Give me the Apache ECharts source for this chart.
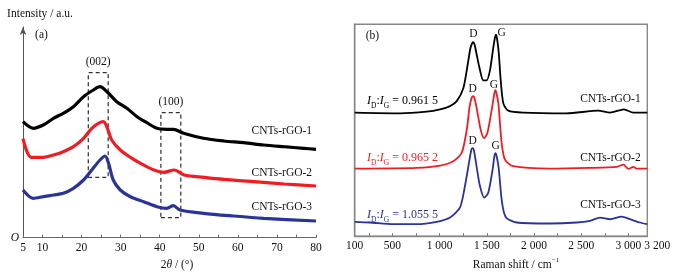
<!DOCTYPE html>
<html>
<head>
<meta charset="UTF-8">
<title>XRD and Raman of CNTs-rGO</title>
<script src="https://cdn.jsdelivr.net/npm/echarts@6/dist/echarts.min.js"></script>
<style>
    html, body { margin: 0; padding: 0; background: #fff; }
    #chart { width: 678px; height: 276px; }
</style>
</head>
<body>
<div id="chart"></div>
<script>
    // (a) XRD
    const xrdAngle1 = [5, 7.6, 10.2, 12.8, 15.3, 17.9, 20.5, 23, 24.7, 26.5, 29, 31.6, 34.2, 36.7, 39.3, 41.8, 43.5, 46.1, 51.2, 56.4, 61.5, 66.6, 71.7, 76.9, 80]
    const xrdInt1 = [116, 109.4, 112.7, 119.4, 124.4, 131, 141, 147.7, 151, 146, 136, 129.4, 121, 115, 109.4, 108.4, 108.4, 104.4, 99.4, 96.7, 95, 92.7, 91, 89.4, 88.4]
    const xrdAngle2 = [5, 7.1, 10.2, 12.8, 15.3, 17.9, 20.5, 22.6, 24.3, 25.6, 26.6, 27.7, 29.9, 32.5, 35.1, 38.5, 41.1, 43.7, 46.3, 51.4, 56.5, 64.2, 71.9, 80]
    const xrdInt2 = [99, 80.4, 80.4, 82.7, 86, 91, 99.4, 109.4, 114.4, 116, 109.4, 97.7, 87.7, 80.4, 74.4, 67.7, 65.4, 67.7, 62.7, 60.4, 58.4, 56, 53.7, 51.7]
    const xrdAngle3 = [5, 7.6, 10.2, 12.8, 15.3, 17.9, 20.5, 22.6, 24.7, 26, 26.9, 28.1, 29.9, 32.5, 35.9, 39.3, 41.8, 43.5, 45.2, 51.2, 58.9, 66.6, 80]
    const xrdInt3 = [47.7, 39.4, 41, 42.7, 44.4, 49.4, 57.7, 67.7, 77.7, 81.7, 74.4, 57.7, 47.7, 41, 36, 31, 29.4, 32, 27.7, 24.4, 21.7, 19.4, 16.7]
    const xrdTicks = [5, 10, 15, 20, 25, 30, 35, 40, 45, 50, 55, 60, 65, 70, 75, 80]
    const xrdTickLabels = [5, 10, 20, 30, 40, 50, 60, 70, 80]
    // dashed boxes: [x0, y0, x1, y1, label]
    const xrdBoxes = [[21.7, 60.4, 26.8, 165, '(002)'], [40.3, 20, 45.4, 125, '(100)']]

    // (b) Raman
    const ramanShift1 = [100, 580, 863, 1004, 1110, 1181, 1251, 1293, 1325, 1345, 1357, 1370, 1390, 1420, 1462, 1498, 1533, 1569, 1587, 1597, 1608, 1626, 1647, 1675, 1727, 1886, 2346, 2681, 2805, 2953, 3052, 3200]
    const ramanInt1 = [124.4, 123.7, 125.4, 127.7, 131, 136, 149, 170.4, 189, 194.5, 195.4, 193, 184, 170.4, 157, 157, 167, 190.4, 200.5, 203, 199, 185, 157, 133.7, 126.4, 124.4, 123.7, 126.4, 124.4, 127.7, 124.4, 124.4]
    const ramanShift2 = [100, 757, 1004, 1145, 1234, 1287, 1318, 1342, 1357, 1372, 1396, 1435, 1470, 1505, 1551, 1578, 1590, 1602, 1622, 1657, 1692, 1780, 2169, 2593, 2876, 2946, 2999, 3052, 3087, 3200]
    const ramanInt2 = [68, 68.7, 71, 75.4, 84, 107, 131, 140, 141, 138, 127, 107, 98.7, 103.7, 127, 143, 147, 144, 133.7, 93.7, 77, 70.4, 68, 68.7, 69.7, 72, 67.7, 69.7, 68, 68]
    const ramanShift3 = [100, 262, 509, 757, 969, 1110, 1216, 1269, 1311, 1336, 1350, 1364, 1390, 1427, 1473, 1515, 1561, 1581, 1593, 1605, 1625, 1661, 1703, 1816, 2169, 2452, 2593, 2699, 2805, 2929, 3017, 3122, 3200]
    const ramanInt3 = [14.4, 13.7, 12, 12, 14.4, 18.7, 29, 51, 74, 87, 88.7, 86, 71, 50.4, 38.7, 43.7, 67, 81, 83.7, 80, 69, 33.7, 18.7, 13.7, 12.7, 13.7, 15.4, 18.7, 17, 19.7, 17, 13.7, 12]
    const ramanTicks = [250, 500, 750, 1000, 1250, 1500, 1750, 2000, 2250, 2500, 2750, 3000]
    const ramanTickLabels = [100, 500, 1000, 1500, 2000, 2500, 3000, 3200]
    const ratios = ['0.961 5', '0.965 2', '1.055 5']
    const names = ['CNTs-rGO-1', 'CNTs-rGO-2', 'CNTs-rGO-3']

    const FONT = 'Liberation Serif'
    const FS = 11.5
    const COLORS = ['#000000', '#f01c24', '#2a3496']
    const zip = (xs, ys) => xs.map((x, i) => [x, ys[i]])
    const spaced = v => { let s = String(v); return s.length > 3 ? s.slice(0, -3) + ' ' + s.slice(-3) : s }

    const textBase = {fontFamily: FONT, fontSize: FS, color: '#111'}
    const subRich = {
        i: {fontFamily: FONT, fontSize: 12, fontStyle: 'italic'},
        n: {fontFamily: FONT, fontSize: 12},
        s: {fontFamily: FONT, fontSize: 7.5, lineHeight: 7, verticalAlign: 'top', padding: [7, 0, 0, 0]},
        sup: {fontFamily: FONT, fontSize: 7, lineHeight: 7, verticalAlign: 'bottom', padding: [0, 0, 7, 0]},
        r: {fontFamily: FONT, fontSize: FS, padding: [0, 0, 0, 20]},
        t: {fontFamily: FONT, fontSize: FS, fontStyle: 'italic'},
    }
    function note(coord, text, pos, color){
        return {
            coord, symbol: 'circle', symbolSize: 0,
            label: {show: true, position: pos, distance: 0, formatter: text,
                fontFamily: FONT, fontSize: FS, color: color || '#111', rich: subRich}
        }
    }
    function richColored(rich, color){
        let out = {}
        for (let k in rich) out[k] = Object.assign({}, rich[k], {color})
        return out
    }

    const xrdSeries = [[xrdAngle1, xrdInt1], [xrdAngle2, xrdInt2], [xrdAngle3, xrdInt3]].map((d, i) => ({
        type: 'line', xAxisIndex: 0, yAxisIndex: 0,
        data: zip(d[0], d[1]), showSymbol: false, smooth: 0.3,
        lineStyle: {color: COLORS[i], width: 3.2}, itemStyle: {color: COLORS[i]},
        z: 3 - i,
    }))
    xrdSeries[0].markArea = {
        silent: true,
        itemStyle: {color: 'rgba(0,0,0,0)', borderColor: '#000', borderWidth: 1, borderType: [4, 3]},
        label: {show: true, position: 'top', distance: 4, color: '#111', fontFamily: FONT, fontSize: FS},
        data: xrdBoxes.map(b => [{name: b[4], coord: [b[0], b[1]]}, {coord: [b[2], b[3]]}])
    }
    xrdSeries[0].markPoint = {silent: true, data: [note([8.1, 202.7], '(a)', 'right'), note([79, 106.7], names[0], 'left')]}
    xrdSeries[1].markPoint = {silent: true, data: [note([79, 64.4], names[1], 'left')]}
    xrdSeries[2].markPoint = {silent: true, data: [note([79, 30.4], names[2], 'left')]}

    const ratioY = [136.4, 78.7, 21]
    const nameY = [137.7, 78.7, 31]
    const dPos = [[1357, 203.7], [1350, 148.7], [1350, 95.4]]
    const gPos = [[1657, 204.7], [1576, 152], [1593, 90.4]]
    const ramanSeries = [[ramanShift1, ramanInt1], [ramanShift2, ramanInt2], [ramanShift3, ramanInt3]].map((d, i) => {
        let ratio = note([230, ratioY[i]], '{i|I}{s|D}{n|:}{i|I}{s|G}{n| = ' + ratios[i] + '}', 'right', COLORS[i])
        ratio.label.rich = richColored(subRich, COLORS[i])
        let pts = [ratio, note([3130, nameY[i]], names[i], 'left'),
            note(dPos[i], 'D', 'inside'), note(gPos[i], 'G', 'inside')]
        if (i === 0) pts.push(note([217, 201.7], '(b)', 'right'))
        return {
            type: 'line', xAxisIndex: 1, yAxisIndex: 1,
            data: zip(d[0], d[1]), showSymbol: false, smooth: 0.25,
            lineStyle: {color: COLORS[i], width: 1.8}, itemStyle: {color: COLORS[i]},
            markPoint: {silent: true, data: pts},
        }
    })

    const chart = echarts.init(document.getElementById('chart'), null, {renderer: 'canvas'})
    chart.setOption({
        animation: false,
        backgroundColor: '#fff',
        textStyle: {fontFamily: FONT},
        grid: [
            {left: 23, right: 362, top: 27, bottom: 38.3},
            {left: 354.7, right: 30.7, top: 24.3, bottom: 38.3, show: true, borderColor: '#888', borderWidth: 1.4},
        ],
        xAxis: [
            {
                gridIndex: 0, type: 'value', min: 5, max: 80,
                axisLine: {lineStyle: {color: '#666', width: 1}},
                axisTick: {inside: true, length: 3, customValues: xrdTicks, lineStyle: {color: '#666'}},
                axisLabel: Object.assign({customValues: xrdTickLabels, margin: 4}, textBase),
                splitLine: {show: false},
                name: '2{t|θ} / (°)', nameLocation: 'middle', nameGap: 14,
                nameTextStyle: Object.assign({padding: [0, 0, 0, 15], rich: subRich}, textBase),
            },
            {
                gridIndex: 1, type: 'value', min: 100, max: 3200,
                axisLine: {lineStyle: {color: '#888', width: 1.4}},
                axisTick: {inside: true, length: 3, customValues: ramanTicks, lineStyle: {color: '#777'}},
                axisLabel: Object.assign({customValues: ramanTickLabels, margin: 4, rich: subRich,
                    formatter: v => v === 3200 ? '{r|' + spaced(v) + '}' : spaced(v)}, textBase),
                splitLine: {show: false},
                name: 'Raman shift / cm{sup|−1}', nameLocation: 'middle', nameGap: 14,
                nameTextStyle: Object.assign({padding: [0, 0, 0, 30], rich: subRich}, textBase),
            },
        ],
        yAxis: [
            {
                gridIndex: 0, type: 'value', min: 0, max: 210.7,
                axisLine: {show: true, symbol: ['none', 'arrow'], symbolSize: [5, 8], lineStyle: {color: '#555', width: 1}},
                axisTick: {show: false},
                axisLabel: Object.assign({customValues: [0], formatter: () => 'O', fontStyle: 'italic', margin: 4}, textBase),
                splitLine: {show: false},
                name: 'Intensity / a.u.', nameLocation: 'end', nameGap: 7,
                nameTextStyle: Object.assign({align: 'center', padding: [0, 0, 0, 34]}, textBase),
            },
            {
                gridIndex: 1, type: 'value', min: 0, max: 213.4,
                axisLine: {show: true, lineStyle: {color: '#888', width: 1.4}},
                axisTick: {show: false}, axisLabel: {show: false}, splitLine: {show: false},
            },
        ],
        series: xrdSeries.concat(ramanSeries),
    })
</script>
</body>
</html>
